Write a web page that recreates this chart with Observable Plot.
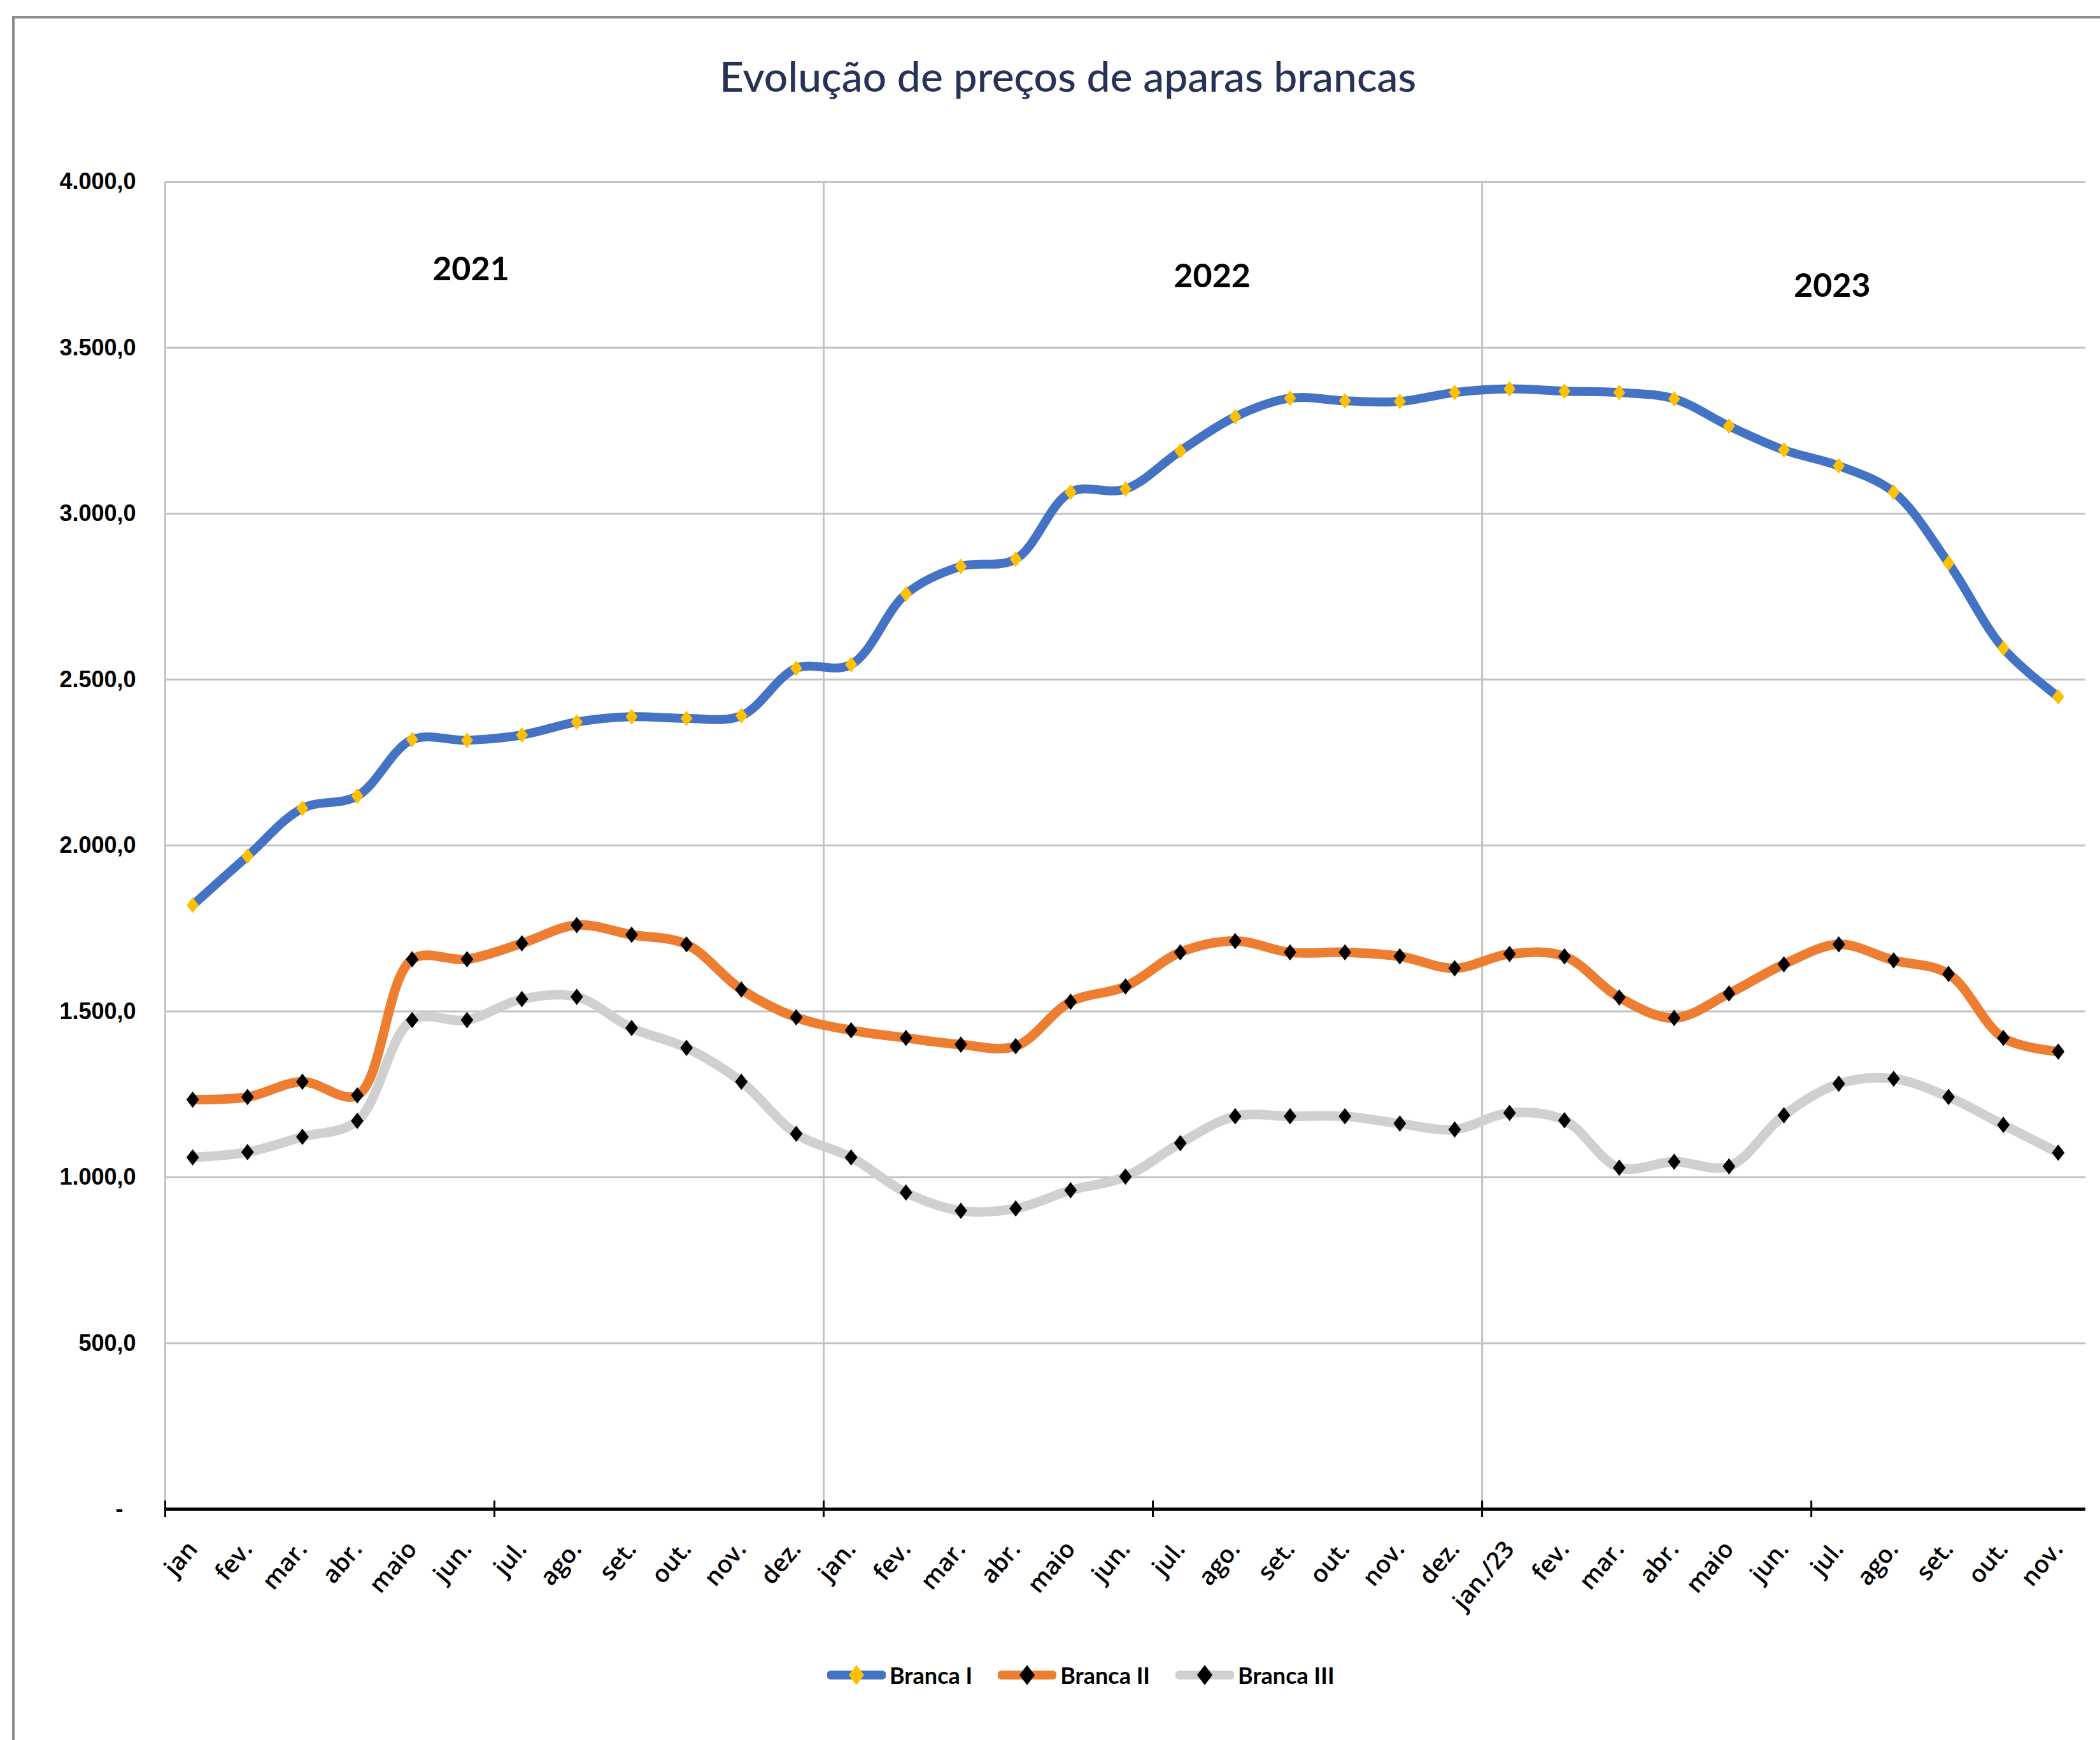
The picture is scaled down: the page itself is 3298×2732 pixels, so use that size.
<!DOCTYPE html>
<html>
<head>
<meta charset="utf-8">
<script src="https://cdn.jsdelivr.net/npm/d3@7"></script>
<script src="https://cdn.jsdelivr.net/npm/@observablehq/plot@0.6"></script>
<style>
  html, body { margin: 0; padding: 0; background: #fff; }
  #page { position: relative; width: 3298px; height: 2732px; overflow: hidden; background: #fff; }
  #frame { position: absolute; left: 19px; top: 25px; right: -20px; bottom: -20px;
           border-left: 4px solid #8c8c8c; border-top: 4px solid #8c8c8c; }
  #title { position: absolute; left: 677px; width: 2000px; top: 86px; text-align: center;
           font-family: Lato, "Open Sans", sans-serif; font-size: 66px; line-height: 1;
           font-weight: 500; color: #263356; white-space: nowrap; }
  #chart { position: absolute; left: 0; top: 230px; }
  #legend { position: absolute; left: 1299px; top: 2608px; display: flex; align-items: center;
            font-family: Lato, "Open Sans", sans-serif; font-weight: 700; font-size: 36px; color: #000; }
  .item { display: flex; align-items: center; margin-right: 40px; }
  .item svg { margin-right: 6px; }
</style>
</head>
<body>
<div id="page">
  <div id="frame"></div>
  <div id="title">Evolução de preços de aparas brancas</div>
  <div id="chart"></div>
  <div id="legend"></div>
</div>
<script>
// ---------- data ----------
const months = [
  "jan", "fev.", "mar.", "abr.", "maio", "jun.", "jul.", "ago.", "set.", "out.", "nov.", "dez.",
  "jan.", "fev.", "mar.", "abr.", "maio", "jun.", "jul.", "ago.", "set.", "out.", "nov.", "dez.",
  "jan./23", "fev.", "mar.", "abr.", "maio", "jun.", "jul.", "ago.", "set.", "out.", "nov."
];
const brancaI = [
  1820, 1968, 2112, 2149, 2319, 2317, 2333, 2372, 2388, 2383, 2391, 2534,
  2545, 2758, 2841, 2863, 3065, 3074, 3189, 3292, 3348, 3340, 3338, 3365,
  3376, 3369, 3365, 3346, 3264, 3192, 3144, 3065, 2851, 2594, 2448
];
const brancaII = [
  1234, 1242, 1288, 1247, 1657, 1657, 1705, 1760, 1731, 1702, 1566, 1482,
  1443, 1420, 1400, 1395, 1529, 1575, 1678, 1712, 1678, 1678, 1666, 1630,
  1673, 1666, 1542, 1480, 1554, 1642, 1702, 1654, 1613, 1420, 1379
];
const brancaIII = [
  1060, 1076, 1122, 1170, 1474, 1474, 1537, 1544, 1450, 1390, 1288, 1131,
  1060, 954, 899, 906, 961, 1002, 1103, 1184, 1184, 1184, 1162, 1144,
  1194, 1172, 1029, 1047, 1033, 1187, 1282, 1297, 1242, 1158, 1074
];
const seriesNames = ["Branca I", "Branca II", "Branca III"];
const seriesColors = ["#4472C4", "#ED7D31", "#D0D0D0"];
const markerColors = ["#FFC000", "#000000", "#000000"];
const yearLabels = ["2021", "2022", "2023"];
const yearLabelAt = [5.07, 18.58, 29.88];     // category index
const yearLabelValue = [3735, 3714, 3685];    // value units
const yTicks = [0, 500, 1000, 1500, 2000, 2500, 3000, 3500, 4000];
const yearBoundaries = [-0.5, 11.5, 23.5];
const tickBoundaries = [-0.5, 5.5, 11.5, 17.5, 23.5, 29.5];

// ---------- build ----------
const allSeries = [brancaI, brancaII, brancaIII];
const rows = [];
allSeries.forEach((vals, s) => vals.forEach((v, i) => rows.push({serie: seriesNames[s], s, i, v})));
const years = yearLabels.map((t, k) => ({t, x: yearLabelAt[k], y: yearLabelValue[k]}));

const ptBR = d3.formatLocale({decimal: ",", thousands: ".", grouping: [3], currency: ["R$", ""]});
const fmt = ptBR.format(",.1f");

// Excel-like diamond (height = 1.3 × width)
const ASPECT = 1.3;
const excelDiamond = {
  draw(context, size) {
    const a = Math.sqrt(size / (2 * ASPECT)), b = a * ASPECT;
    context.moveTo(0, -b); context.lineTo(a, 0); context.lineTo(0, b); context.lineTo(-a, 0); context.closePath();
  }
};

const widths = [14, 15, 15];
const radii = [8.6, 9, 9];

const marks = [
  Plot.ruleY(yTicks.filter(d => d > 0), {stroke: "#c3c3c3", strokeWidth: 3}),
  Plot.ruleX(yearBoundaries, {y1: 0, y2: 4000, stroke: "#c3c3c3", strokeWidth: 3}),
  Plot.ruleX(tickBoundaries, {y1: -25, y2: 25, stroke: "#000", strokeWidth: 3}),
  Plot.ruleY([0], {stroke: "#000", strokeWidth: 5}),
  Plot.axisY({ticks: yTicks, tickSize: 0, tickPadding: 46,
    tickFormat: d => d === 0 ? "-\u00A0\u00A0" : fmt(d),
    fontSize: 36, fontWeight: "bold", fontFamily: "'Liberation Sans', Arial, sans-serif", fill: "#000"}),
  Plot.axisX({ticks: d3.range(months.length), tickSize: 0, tickPadding: 56, tickRotate: -50,
    tickFormat: i => months[i], fontSize: 38, fontWeight: 600,
    fontFamily: "'Open Sans', sans-serif", fill: "#000"})
];
allSeries.forEach((_, s) => {
  marks.push(Plot.lineY(rows.filter(d => d.s === s), {
    x: "i", y: "v", stroke: seriesColors[s], strokeWidth: widths[s], curve: "catmull-rom"
  }));
});
allSeries.forEach((_, s) => {
  marks.push(Plot.dot(rows.filter(d => d.s === s), {
    x: "i", y: "v", symbol: excelDiamond, r: radii[s], fill: markerColors[s], stroke: "none"
  }));
});
marks.push(Plot.text(years, {x: "x", y: "y", text: "t", fontSize: 52, fontWeight: "bold",
  fontFamily: "Lato, 'Open Sans', sans-serif", fill: "#000"}));

const chart = Plot.plot({
  width: 3298, height: 2330,
  marginLeft: 259, marginRight: 23, marginTop: 55, marginBottom: 191,
  x: {type: "linear", domain: [-0.5, 34.5]},
  y: {type: "linear", domain: [0, 4000]},
  style: {background: "transparent", fontFamily: "Lato, sans-serif"},
  marks
});
document.getElementById("chart").appendChild(chart);

// ---------- legend ----------
const legend = d3.select("#legend");
seriesNames.forEach((name, s) => {
  const item = legend.append("div").attr("class", "item");
  const svg = item.append("svg").attr("width", 92).attr("height", 44);
  svg.append("line").attr("x1", 6).attr("x2", 86).attr("y1", 22).attr("y2", 22)
    .attr("stroke", seriesColors[s]).attr("stroke-width", 14).attr("stroke-linecap", "round");
  svg.append("path").attr("transform", "translate(46,22)")
    .attr("d", d3.symbol(excelDiamond, Math.PI * 11 * 11)())
    .attr("fill", markerColors[s]);
  item.append("span").text(name);
});
</script>
</body>
</html>
